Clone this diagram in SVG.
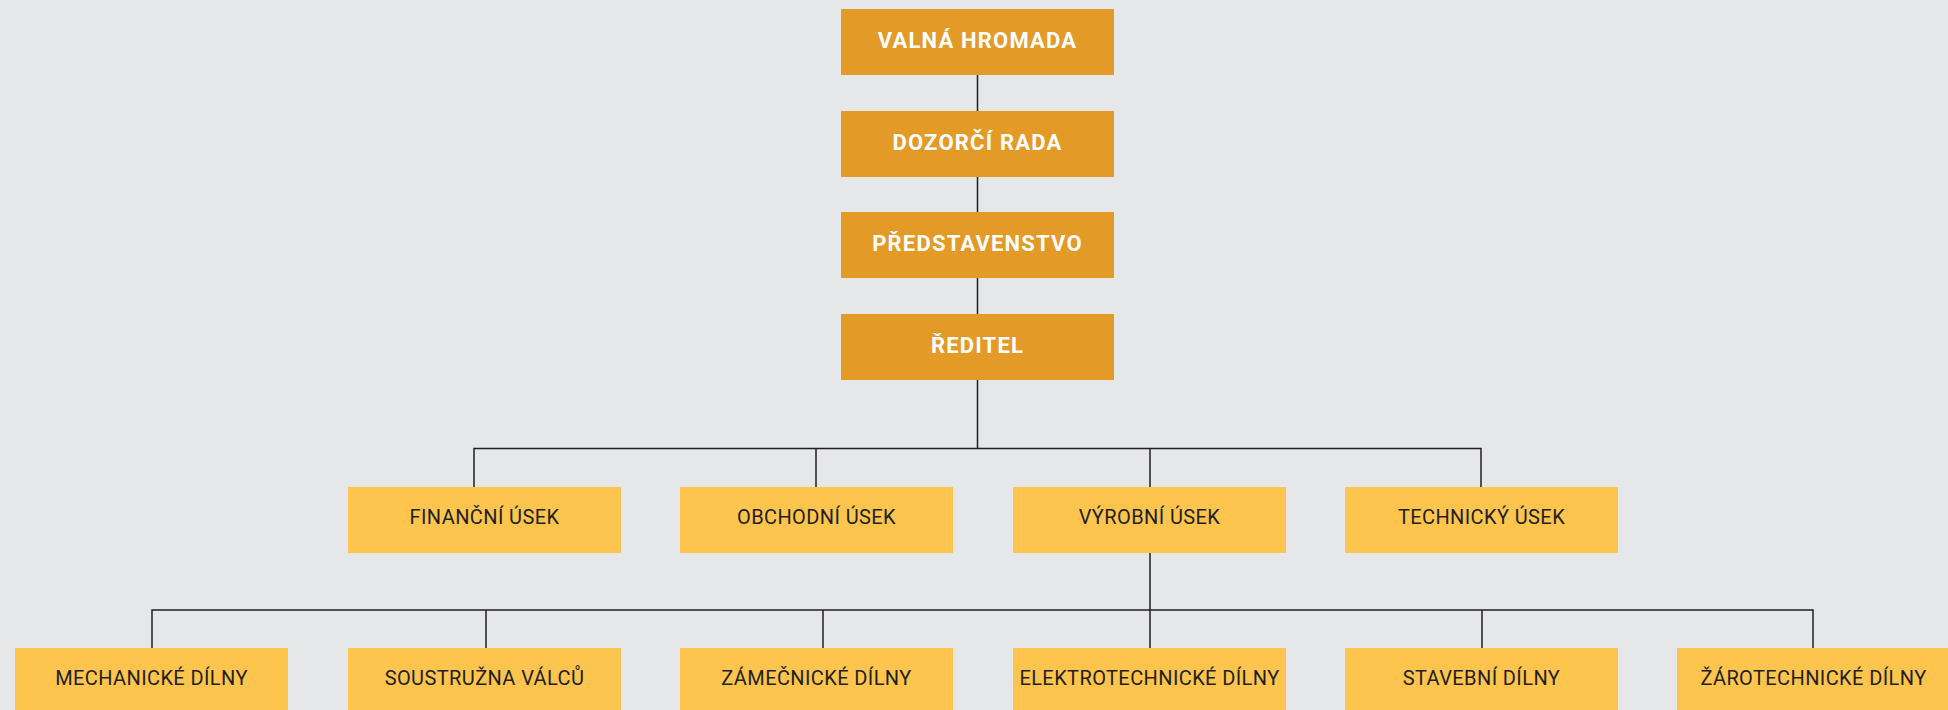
<svg xmlns="http://www.w3.org/2000/svg" width="1948" height="710" viewBox="0 0 1948 710">
<style>
.bg{fill:#E6E7E9}
.top{fill:#E39A27}
.sub{fill:#FDC54D}
.tt{font-family:Roboto,"Liberation Sans",sans-serif;font-weight:bold;font-size:22px;letter-spacing:1.2px;fill:#FFFFFF;text-anchor:middle}
.st{font-family:Roboto,"Liberation Sans",sans-serif;font-size:20px;letter-spacing:0.4px;fill:#231F20;text-anchor:middle}
.ln{stroke:#231F20;stroke-width:1.5;fill:none}
</style>
<rect class="bg" x="0" y="0" width="1948" height="710"/>
<g id="connectors">
<path class="ln" d="M977.5 75V111M977.5 177V212M977.5 278V314M977.5 380V448.5"/>
<path class="ln" d="M474 487V448.5H1481V487M816 448.5V487M1150 448.5V487"/>
<path class="ln" d="M1150 553V610M152 648V610H1813V648M486 610V648M823 610V648M1150 610V648M1482 610V648"/>
</g>
<g id="valna-hromada"><rect class="top" x="841" y="9" width="273" height="66"/><text class="tt" x="977.5" y="47.5">VALNÁ HROMADA</text></g>
<g id="dozorci-rada"><rect class="top" x="841" y="111" width="273" height="66"/><text class="tt" x="977.5" y="149.5">DOZORČÍ RADA</text></g>
<g id="predstavenstvo"><rect class="top" x="841" y="212" width="273" height="66"/><text class="tt" x="977.5" y="250.5">PŘEDSTAVENSTVO</text></g>
<g id="reditel"><rect class="top" x="841" y="314" width="273" height="66"/><text class="tt" x="977.5" y="352.5">ŘEDITEL</text></g>
<g id="financni-usek"><rect class="sub" x="348" y="487" width="273" height="66"/><text class="st" x="484.5" y="524">FINANČNÍ ÚSEK</text></g>
<g id="obchodni-usek"><rect class="sub" x="680" y="487" width="273" height="66"/><text class="st" x="816.5" y="524">OBCHODNÍ ÚSEK</text></g>
<g id="vyrobni-usek"><rect class="sub" x="1013" y="487" width="273" height="66"/><text class="st" x="1149.5" y="524">VÝROBNÍ ÚSEK</text></g>
<g id="technicky-usek"><rect class="sub" x="1345" y="487" width="273" height="66"/><text class="st" x="1481.5" y="524">TECHNICKÝ ÚSEK</text></g>
<g id="mechanicke-dilny"><rect class="sub" x="15" y="648" width="273" height="66"/><text class="st" x="151.5" y="685">MECHANICKÉ DÍLNY</text></g>
<g id="soustruzna-valcu"><rect class="sub" x="348" y="648" width="273" height="66"/><text class="st" x="484.5" y="685">SOUSTRUŽNA VÁLCŮ</text></g>
<g id="zamecnicke-dilny"><rect class="sub" x="680" y="648" width="273" height="66"/><text class="st" x="816.5" y="685">ZÁMEČNICKÉ DÍLNY</text></g>
<g id="elektrotechnicke-dilny"><rect class="sub" x="1013" y="648" width="273" height="66"/><text class="st" x="1149.5" y="685">ELEKTROTECHNICKÉ DÍLNY</text></g>
<g id="stavebni-dilny"><rect class="sub" x="1345" y="648" width="273" height="66"/><text class="st" x="1481.5" y="685">STAVEBNÍ DÍLNY</text></g>
<g id="zarotechnicke-dilny"><rect class="sub" x="1677" y="648" width="273" height="66"/><text class="st" x="1813.5" y="685">ŽÁROTECHNICKÉ DÍLNY</text></g>
</svg>
